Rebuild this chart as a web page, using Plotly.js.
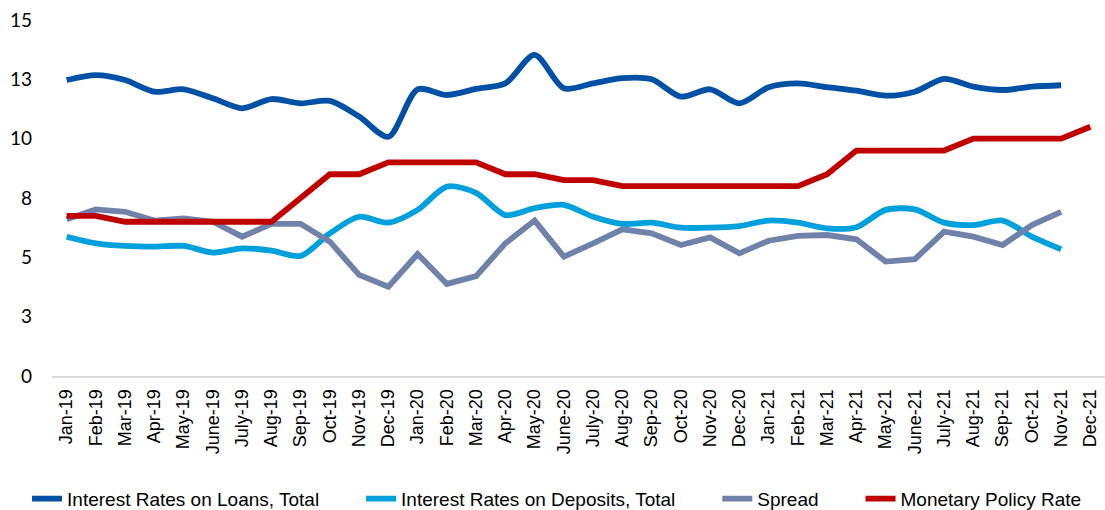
<!DOCTYPE html>
<html>
<head>
<meta charset="utf-8">
<script src="https://cdn.plot.ly/plotly-3.0.1.min.js"></script>
<style>html,body{margin:0;padding:0;background:#fff;}#chart{width:1105px;height:510px;}</style>
</head>
<body>
<div id="chart"></div>
<script>
const months = ["Jan-19","Feb-19","Mar-19","Apr-19","May-19","June-19","July-19","Aug-19","Sep-19","Oct-19","Nov-19","Dec-19",
  "Jan-20","Feb-20","Mar-20","Apr-20","May-20","June-20","July-20","Aug-20","Sep-20","Oct-20","Nov-20","Dec-20",
  "Jan-21","Feb-21","Mar-21","Apr-21","May-21","June-21","July-21","Aug-21","Sep-21","Oct-21","Nov-21","Dec-21"];
const loans = [12.47,12.68,12.47,11.98,12.08,11.70,11.28,11.67,11.49,11.59,10.93,10.08,
  12.08,11.84,12.10,12.33,13.53,12.12,12.33,12.55,12.50,11.77,12.08,11.49,
  12.17,12.33,12.17,12.02,11.81,11.98,12.52,12.19,12.05,12.19,12.25,null];
const deposits = [5.87,5.59,5.48,5.45,5.48,5.20,5.38,5.28,5.06,6.01,6.71,6.46,
  7.00,7.98,7.72,6.78,7.07,7.21,6.71,6.41,6.46,6.25,6.25,6.32,
  6.55,6.46,6.22,6.27,7.00,7.02,6.46,6.36,6.55,5.87,5.34,null];
const spread = [6.60,7.02,6.92,6.55,6.64,6.50,5.87,6.41,6.41,5.66,4.26,3.76,
  5.14,3.88,4.21,5.59,6.55,5.03,5.59,6.18,6.01,5.52,5.84,5.17,
  5.70,5.90,5.94,5.76,4.82,4.92,6.08,5.87,5.52,6.36,6.92,null];
const policy = [6.75,6.75,6.5,6.5,6.5,6.5,6.5,6.5,7.5,8.5,8.5,9.0,
  9.0,9.0,9.0,8.5,8.5,8.25,8.25,8.0,8.0,8.0,8.0,8.0,
  8.0,8.0,8.5,9.5,9.5,9.5,9.5,10.0,10.0,10.0,10.0,10.5];
const yTickVals = [0,2.5,5,7.5,10,12.5,15];
const yTickText = ["0","3","5","8","10","13","15"];
const names = ["Interest Rates on Loans, Total","Interest Rates on Deposits, Total","Spread","Monetary Policy Rate"];

const pad = "\u00a0".repeat(7);
const traces = [
  {x: months, y: loans, name: names[0]+pad, type: "scatter", mode: "lines",
   line: {color: "#0051A5", width: 5.8, shape: "spline", smoothing: 0.8}},
  {x: months, y: deposits, name: names[1]+pad, type: "scatter", mode: "lines",
   line: {color: "#00A0DC", width: 5.8, shape: "spline", smoothing: 0.8}},
  {x: months, y: spread, name: names[2]+pad, type: "scatter", mode: "lines",
   line: {color: "#7182AA", width: 5.8}},
  {x: months, y: policy, name: names[3], type: "scatter", mode: "lines",
   line: {color: "#C00000", width: 5.8}}
];
const layout = {
  width: 1105, height: 510,
  margin: {l: 52, r: 0, t: 20, b: 134, autoexpand: false},
  paper_bgcolor: "#ffffff", plot_bgcolor: "#ffffff",
  showlegend: true,
  legend: {orientation: "h", x: -0.0237, xanchor: "left", y: -0.345, yanchor: "middle",
    font: {family: "Liberation Sans, Arial, sans-serif", size: 19, color: "#000"},
    traceorder: "normal", itemwidth: 30},
  xaxis: {type: "category", range: [-0.5, 35.5], tickangle: -90, showgrid: false, zeroline: false,
    showline: true, linecolor: "#D9D9D9", linewidth: 2, ticks: "", ticklabelstandoff: 4,
    automargin: false,
    tickfont: {family: "Liberation Sans, Arial, sans-serif", size: 18, color: "#000"}},
  yaxis: {range: [0, 15], tickvals: yTickVals, ticktext: yTickText, showgrid: false,
    zeroline: false, showline: false, ticks: "", ticklabelstandoff: 19, automargin: false,
    tickfont: {family: "Lato, Open Sans, sans-serif", size: 19, color: "#000"}}
};
Plotly.newPlot("chart", traces, layout, {displayModeBar: false, staticPlot: true});
</script>
</body>
</html>
